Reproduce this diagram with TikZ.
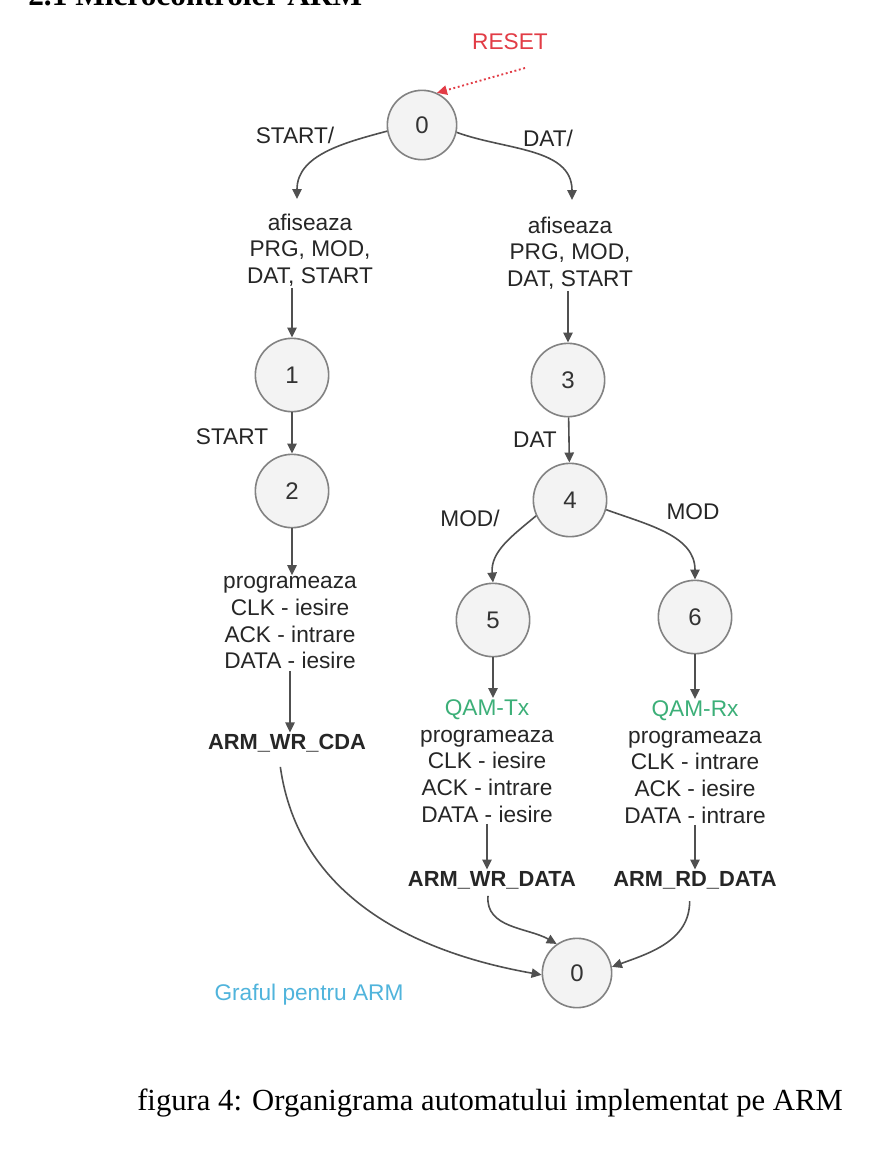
\documentclass[tikz,border=0pt]{standalone}
\usepackage{fontspec}
\setmainfont{Liberation Serif}
\setsansfont{Liberation Sans}
\usetikzlibrary{arrows.meta}
\definecolor{circfill}{RGB}{243,243,243}
\definecolor{circline}{RGB}{130,130,130}
\definecolor{arrcol}{RGB}{80,80,80}
\definecolor{resetred}{RGB}{226,60,70}
\definecolor{qamgreen}{RGB}{60,175,120}
\definecolor{grafblue}{RGB}{80,180,220}
\begin{document}
\begin{tikzpicture}[x=0.75pt,y=0.75pt,
  state/.style={circle, draw=circline, fill=circfill, line width=1.2pt, minimum size=55pt, inner sep=0pt, font=\sffamily\fontsize{18}{20}\selectfont, text=black!80},
  lab/.style={font=\sffamily\fontsize{17}{20}\selectfont, text=black!85, inner sep=1pt},
  block/.style={lab, align=center},
  bold/.style={font=\sffamily\bfseries\fontsize{16.4}{20}\selectfont, text=black!85, inner sep=1pt},
  arr/.style={draw=arrcol, line width=1.2pt, -{Triangle[length=7.5pt,width=7pt]}},
  resetarr/.style={draw=resetred, line width=1.4pt, dotted, -{Triangle[length=7.5pt,width=7pt]}}
]
\useasboundingbox (0,0) rectangle (892,-1152);
\clip (0,0) rectangle (892,-1152);
\fill[white] (0,0) rectangle (892,-1152);

% heading (cut off at top edge, as in the reference)
\node[anchor=base west, inner sep=0pt, font=\rmfamily\bfseries\fontsize{23.5}{28}\selectfont] (head) at (28,-6) {2.1 Microcontroler ARM};

% states
\node[state, minimum size=52pt] (n0) at (422,-125) {0};
\node[state] (n1) at (292,-375) {1};
\node[state] (n2) at (292,-491) {2};
\node[state] (n3) at (568,-380) {3};
\node[state] (n4) at (570,-500) {4};
\node[state] (n5) at (493,-620) {5};
\node[state] (n6) at (695,-617) {6};
\node[state, minimum size=52pt] (m0) at (577,-973) {0};

% reset
\node[lab, text=resetred] (reset) at (510,-42) {RESET};
\coordinate (rs) at (525,-68);
\draw[resetarr] (rs) -- (n0.65);

% labels
\node[lab] (lstart0) at (295,-135) {START/};
\node[lab] (ldat0) at (548,-138) {DAT/};
\node[lab] (lstart) at (232,-437) {START};
\node[lab] (ldat) at (535,-440) {DAT};
\node[lab] (lmod0) at (470,-518) {MOD/};
\node[lab] (lmod) at (693,-512) {MOD};

% text blocks
\node[block] (bL) at (310,-250) {afiseaza\\PRG, MOD,\\DAT, START};
\node[block] (bR) at (570,-253) {afiseaza\\PRG, MOD,\\DAT, START};
\node[block] (pL) at (290,-623) {programeaza\\CLK - iesire\\ACK - intrare\\DATA - iesire};
\node[bold] (cda) at (287,-743) {ARM\_WR\_CDA};
\node[block] (tx) at (487,-761) {\textcolor{qamgreen}{QAM-Tx}\\programeaza\\CLK - iesire\\ACK - intrare\\DATA - iesire};
\node[bold] (wrd) at (492,-880) {ARM\_WR\_DATA};
\node[block] (rx) at (695,-762) {\textcolor{qamgreen}{QAM-Rx}\\programeaza\\CLK - intrare\\ACK - iesire\\DATA - intrare};
\node[bold] (rdd) at (695,-880) {ARM\_RD\_DATA};

\node[lab, text=grafblue] (graf) at (309,-995) {Graful pentru ARM};

% caption
\node[inner sep=0pt, font=\rmfamily\fontsize{23}{27}\selectfont] (cap) at (490,-1103) {figura 4: Organigrama automatului implementat pe ARM};

% connectors
\coordinate (tL) at (297,-199);
\coordinate (tR) at (572,-200);
\draw[arr] (n0.190) to[out=195,in=90] (tL);
\draw[arr] (n0.-12) to[out=-20,in=90] (tR);
\draw[arr] (n1.north |- bL.south) -- (n1.north);
\draw[arr] (n3.north |- bR.south) -- (n3.north);
\draw[arr] (n1) -- (n2);
\draw[arr] (n3) -- (n4);
\draw[arr] (n2.south) -- (n2.south |- pL.north);
\draw[arr] (n4.205) to[out=220,in=95] (n5.north);
\draw[arr] (n4.-15) to[out=-20,in=90] (n6.north);
\draw[arr] (n5.south) -- (n5.south |- tx.north);
\draw[arr] (n6.south) -- (n6.south |- rx.north);
\draw[arr] (pL.south) -- (pL.south |- cda.north);
\draw[arr] (tx.south) -- (tx.south |- wrd.north);
\draw[arr] (rx.south) -- (rx.south |- rdd.north);
\draw[arr] ([xshift=-5pt,yshift=-10pt]cda.south) to[out=-82,in=170] (m0.183);
\draw[arr] ([xshift=-3pt,yshift=-4pt]wrd.south) to[out=-95,in=150] (m0.125);
\draw[arr] ([xshift=-4pt,yshift=-8pt]rdd.south) to[out=-90,in=20] (m0.10);
\end{tikzpicture}
\end{document}
